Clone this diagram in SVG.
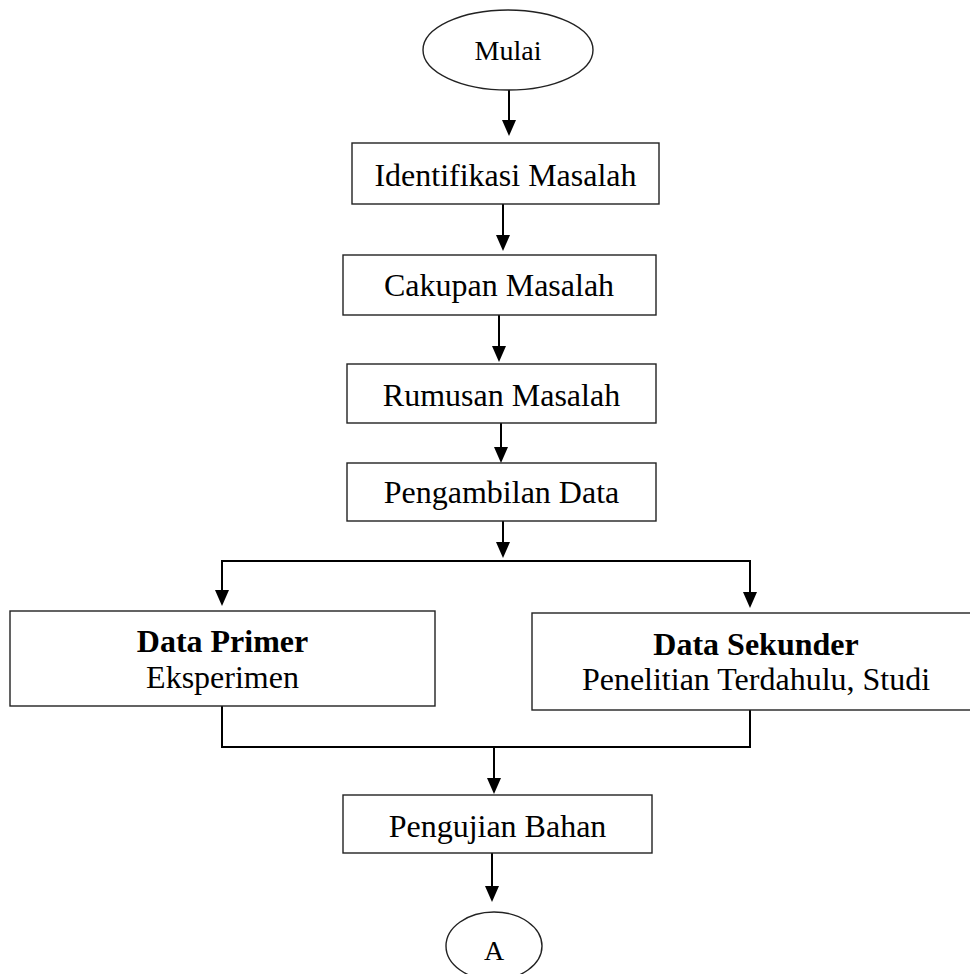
<svg xmlns="http://www.w3.org/2000/svg" width="970" height="974" viewBox="0 0 970 974">
<style>
.box{fill:#fff;stroke:#222;stroke-width:1.4}
.t{font-family:"Liberation Serif","Times New Roman",serif;font-size:32px;fill:#000;text-anchor:middle}
.b{font-weight:bold}
.c{fill:none;stroke:#000;stroke-width:2}
</style>
<defs>
<marker id="ah" markerUnits="userSpaceOnUse" markerWidth="14" markerHeight="17" viewBox="0 0 14 17" refX="7" refY="17" orient="auto-start-reverse">
<path d="M0,0 L14,0 L7,17 Z" fill="#000" transform="rotate(-90 7 8.5) translate(0 0)"/>
</marker>
</defs>
<rect width="970" height="974" fill="#fff"/>
<g id="connectors">
<polyline class="c" points="509,89 509,120"/>
<polygon points="502,120 516,120 509,136" fill="#000"/>
<polyline class="c" points="503,204 503,235"/>
<polygon points="496,235 510,235 503,251" fill="#000"/>
<polyline class="c" points="499,315 499,346"/>
<polygon points="492,346 506,346 499,362" fill="#000"/>
<polyline class="c" points="501,423 501,447"/>
<polygon points="494,447 508,447 501,463" fill="#000"/>
<polyline class="c" points="503,521 503,542"/>
<polygon points="496,542 510,542 503,558" fill="#000"/>
<polyline class="c" points="222,590 222,561 750,561 750,592"/>
<polygon points="215,590 229,590 222,606" fill="#000"/>
<polygon points="743,592 757,592 750,608" fill="#000"/>
<polyline class="c" points="222,706 222,747 750,747 750,710"/>
<polyline class="c" points="494,747 494,778"/>
<polygon points="487,778 501,778 494,794" fill="#000"/>
<polyline class="c" points="492,853 492,886"/>
<polygon points="485,886 499,886 492,902" fill="#000"/>
</g>
<g id="mulai">
<ellipse class="box" cx="508" cy="50" rx="85" ry="40"/>
<text class="t" x="508" y="60" style="font-size:28px">Mulai</text>
</g>
<g id="identifikasi">
<rect class="box" x="352" y="143" width="307" height="61"/>
<text class="t" x="505.5" y="186">Identifikasi Masalah</text>
</g>
<g id="cakupan">
<rect class="box" x="343" y="255" width="313" height="60"/>
<text class="t" x="499" y="296">Cakupan Masalah</text>
</g>
<g id="rumusan">
<rect class="box" x="347" y="364" width="309" height="59"/>
<text class="t" x="501.5" y="406">Rumusan Masalah</text>
</g>
<g id="pengambilan">
<rect class="box" x="347" y="463" width="309" height="58"/>
<text class="t" x="501.5" y="503">Pengambilan Data</text>
</g>
<g id="primer">
<rect class="box" x="10" y="611" width="425" height="95"/>
<text class="t b" x="222.5" y="652">Data Primer</text>
<text class="t" x="222.5" y="688">Eksperimen</text>
</g>
<g id="sekunder">
<rect class="box" x="532" y="613" width="446" height="97"/>
<text class="t b" x="756" y="655">Data Sekunder</text>
<text class="t" x="756" y="690">Penelitian Terdahulu, Studi</text>
</g>
<g id="pengujian">
<rect class="box" x="343" y="795" width="309" height="58"/>
<text class="t" x="497.5" y="837">Pengujian Bahan</text>
</g>
<g id="a">
<ellipse class="box" cx="494" cy="946" rx="48" ry="34"/>
<text class="t" x="494" y="960" style="font-size:28px">A</text>
</g>
</svg>
